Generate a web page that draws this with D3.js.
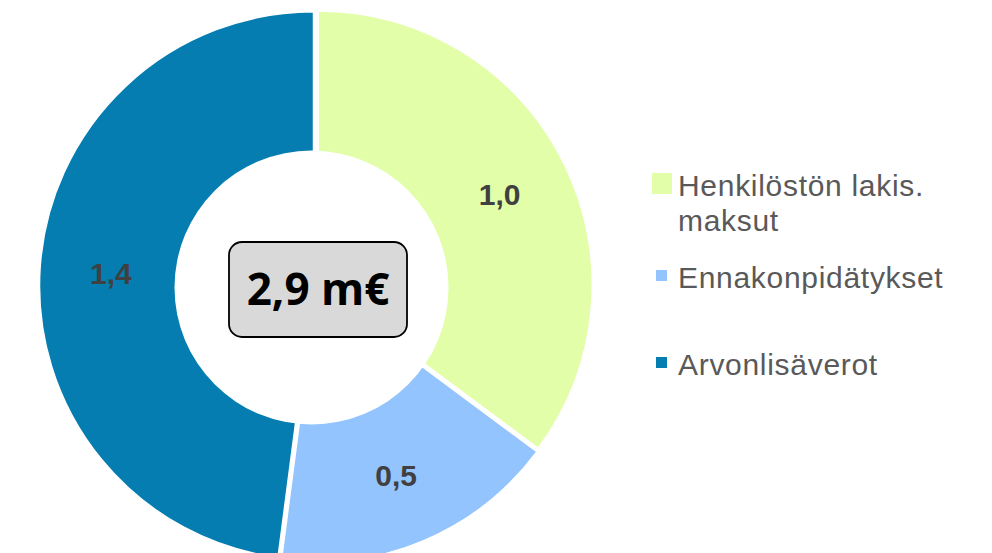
<!DOCTYPE html>
<html>
<head>
<meta charset="utf-8">
<script src="https://cdn.jsdelivr.net/npm/d3@7"></script>
<style>
  html, body { margin: 0; padding: 0; background: #fff; }
  svg { display: block; }
</style>
</head>
<body>
<svg id="chart" width="992" height="553"></svg>
<script>
// data (millions of euros)
var categories = ['Henkilöstön lakis. maksut', 'Ennakonpidätykset', 'Arvonlisäverot'];
var legendLines = [['Henkilöstön lakis.', 'maksut'], ['Ennakonpidätykset'], ['Arvonlisäverot']];
var values = [1.02, 0.49, 1.39];
var colors = ['#e2fea9', '#93c4fe', '#057db1'];
var totalUnit = ' m€';

var svg = d3.select('#chart'),
    cx = 316, cy = 286,
    outerR = 274, holeR = 137,
    explode = 2.5;

var fmt = function (v) { return d3.format('.1f')(v).replace('.', ','); };

var pie = d3.pie().sort(null).value(function (d) { return d; });
var arcs = pie(values);

var arc = d3.arc().innerRadius(0).outerRadius(outerR);
var labelArc = d3.arc().innerRadius((holeR + outerR) / 2).outerRadius((holeR + outerR) / 2);

var g = svg.append('g').attr('transform', 'translate(' + cx + ',' + cy + ')');

var slices = g.selectAll('g.slice')
    .data(arcs)
    .enter().append('g')
    .attr('class', 'slice')
    .attr('transform', function (d) {
        var a = (d.startAngle + d.endAngle) / 2;
        return 'translate(' + (Math.sin(a) * explode) + ',' + (-Math.cos(a) * explode) + ')';
    });

slices.append('path')
    .attr('d', arc)
    .attr('fill', function (d, i) { return colors[i]; })
    .attr('stroke', '#fff')
    .attr('stroke-width', 1.5);

// hole of the donut
g.append('circle')
    .attr('cx', -4.5)
    .attr('cy', 1.5)
    .attr('r', holeR)
    .attr('fill', '#fff');

// slice labels
g.selectAll('text.val')
    .data(arcs)
    .enter().append('text')
    .attr('class', 'val')
    .attr('transform', function (d) {
        var c = labelArc.centroid(d);
        return 'translate(' + c[0] + ',' + (c[1] + 11) + ')';
    })
    .attr('text-anchor', 'middle')
    .style('font-family', '"Liberation Sans", Arial, sans-serif')
    .style('font-weight', 'bold')
    .style('font-size', '30px')
    .style('fill', '#404040')
    .text(function (d) { return fmt(d.value); });

// total box in the middle
var total = d3.sum(values);
svg.append('rect')
    .attr('x', 229).attr('y', 242)
    .attr('width', 178).attr('height', 95)
    .attr('rx', 13).attr('ry', 13)
    .attr('fill', '#d9d9d9')
    .attr('stroke', '#000')
    .attr('stroke-width', 1.8);

svg.append('text')
    .attr('x', 318).attr('y', 305)
    .attr('text-anchor', 'middle')
    .style('font-family', '"Open Sans", "Noto Sans", sans-serif')
    .style('font-weight', 'bold')
    .style('font-size', '44px')
    .style('fill', '#000')
    .text(fmt(total) + totalUnit);

// legend
var legendY = [196, 288, 375];
var legend = svg.selectAll('g.legend')
    .data(categories)
    .enter().append('g')
    .attr('class', 'legend')
    .attr('transform', function (d, i) { return 'translate(0,' + legendY[i] + ')'; });

legend.append('rect')
    .attr('x', function (d, i) { return i === 0 ? 652 : 656; })
    .attr('y', function (d, i) { return i === 0 ? -23 : -18; })
    .attr('width', function (d, i) { return i === 0 ? 20 : 11; })
    .attr('height', function (d, i) { return i === 0 ? 21 : 11; })
    .attr('fill', function (d, i) { return colors[i]; });

legend.each(function (d, i) {
    var t = d3.select(this).append('text')
        .attr('x', 678).attr('y', 0)
        .style('font-family', '"Liberation Sans", Arial, sans-serif')
        .style('font-size', '30px')
        .style('letter-spacing', '0.7px')
        .style('fill', '#595959');
    legendLines[i].forEach(function (line, j) {
        t.append('tspan')
            .attr('x', 678)
            .attr('dy', j === 0 ? 0 : 35)
            .text(line);
    });
});
</script>
</body>
</html>
